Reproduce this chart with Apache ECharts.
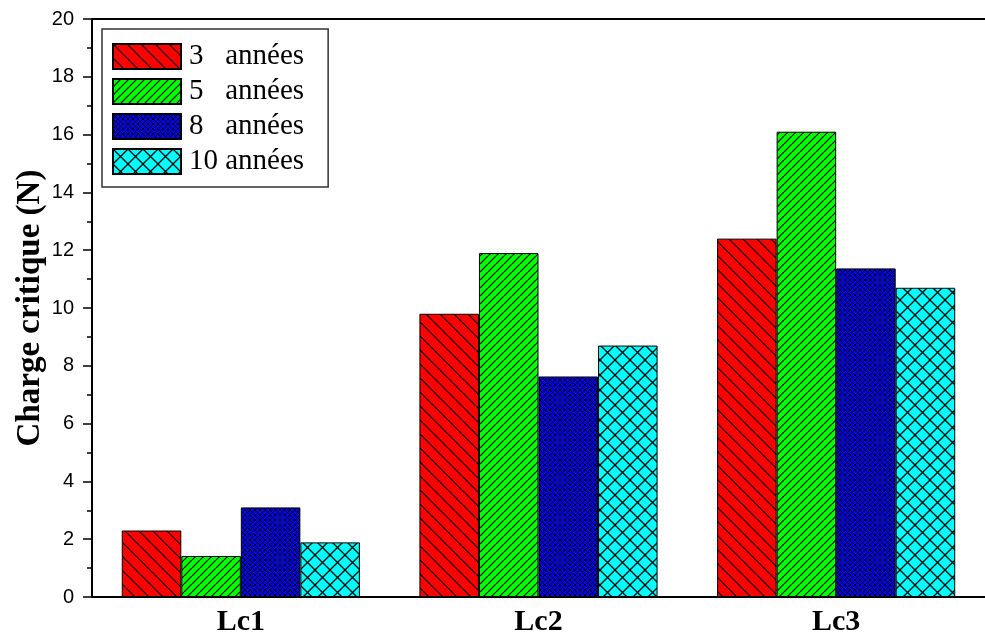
<!DOCTYPE html>
<html><head><meta charset="utf-8">
<script src="https://cdn.jsdelivr.net/npm/echarts@6/dist/echarts.min.js"></script>
<style>html,body{margin:0;padding:0;background:#fff}#c{width:985px;height:637px}</style>
</head><body><div id="c"></div>
<script>
const categories = ['Lc1', 'Lc2', 'Lc3'];
const seriesNames = ['3   années', '5   années', '8   années', '10 années'];
const values3 = [2.3, 9.8, 12.4];
const values5 = [1.42, 11.9, 16.1];
const values8 = [3.1, 7.63, 11.37];
const values10 = [1.89, 8.7, 10.7];
const yTicks = [0, 2, 4, 6, 8, 10, 12, 14, 16, 18, 20];

function makePattern(bg, s, mode, lw) {
  const c = document.createElement('canvas');
  c.width = s; c.height = s;
  const g = c.getContext('2d');
  g.fillStyle = bg; g.fillRect(0, 0, s, s);
  g.strokeStyle = '#000'; g.lineWidth = lw;
  g.beginPath();
  for (let k = -1; k <= 1; k++) {
    if (mode === 'back' || mode === 'cross') {
      g.moveTo(k * s, 0); g.lineTo(k * s + s, s);
    }
    if (mode === 'fwd' || mode === 'cross') {
      g.moveTo(k * s, s); g.lineTo(k * s + s, 0);
    }
  }
  g.stroke();
  return { image: c, repeat: 'repeat' };
}
const fills = [
  makePattern('#ff0000', 14, 'back', 1.2),
  makePattern('#00ff00', 8, 'fwd', 1.2),
  makePattern('#0000ff', 5, 'cross', 1),
  makePattern('#00ffff', 15, 'cross', 1.3)
];
const data = [values3, values5, values8, values10];

const chart = echarts.init(document.getElementById('c'), null, { renderer: 'canvas' });
chart.setOption({
  animation: false,
  grid: { left: 92, top: 19, width: 902, height: 578, show: false },
  legend: {
    left: 102, top: 29, orient: 'vertical',
    padding: [13, 24, 11, 10],
    itemWidth: 68, itemHeight: 25, itemGap: 6,
    borderColor: '#333', borderWidth: 1.5,
    icon: 'rect',
    textStyle: { fontFamily: 'Liberation Serif', fontSize: 29, color: '#000', lineHeight: 25, padding: [0, 0, 0, 3] },
    data: seriesNames
  },
  xAxis: [{
    type: 'category', data: categories,
    axisLine: { lineStyle: { color: '#000', width: 2 } },
    axisTick: { show: false },
    axisLabel: { fontFamily: 'Liberation Serif', fontWeight: 'bold', fontSize: 30, color: '#000', margin: 10 }
  }, {
    type: 'category', data: categories, position: 'top',
    axisLine: { show: true, lineStyle: { color: '#000', width: 2 } },
    axisTick: { show: false }, axisLabel: { show: false }
  }],
  yAxis: {
    type: 'value', min: 0, max: 20, interval: 2,
    name: 'Charge critique (N)', nameLocation: 'middle', nameGap: 45, nameMoveOverlap: false,
    nameTextStyle: { fontFamily: 'Liberation Serif', fontWeight: 'bold', fontSize: 33, color: '#000' },
    axisLine: { show: true, lineStyle: { color: '#000', width: 2 } },
    axisTick: { show: true, length: 9, lineStyle: { color: '#000', width: 1.5 } },
    minorTick: { show: true, splitNumber: 2, length: 5, lineStyle: { color: '#000', width: 1.5 } },
    splitLine: { show: false },
    axisLabel: { fontFamily: 'Liberation Sans', fontSize: 20, color: '#000', margin: 18,
      formatter: v => yTicks.includes(v) ? String(v) : '' }
  },
  series: seriesNames.map((n, i) => ({
    name: n, type: 'bar', data: data[i],
    barGap: '0%', barCategoryGap: '20%',
    itemStyle: { color: fills[i], borderColor: '#000', borderWidth: 1 }
  }))
});
</script></body></html>
